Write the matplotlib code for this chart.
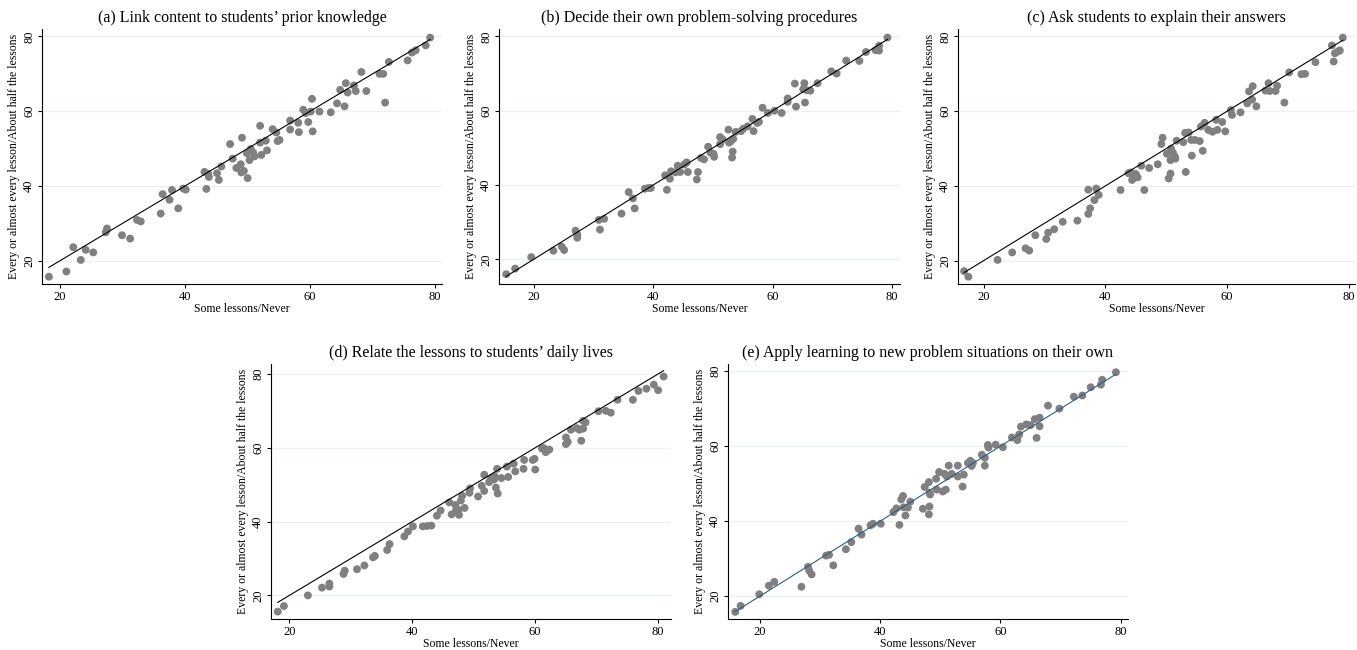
import matplotlib
matplotlib.use("Agg")
import matplotlib.pyplot as plt

plt.rcParams['font.family'] = ['Liberation Serif', 'DejaVu Serif']

# (a) Link content to students' prior knowledge
a_x = [18.2, 21.0, 22.1, 23.3, 24.1, 25.3, 27.3, 27.5, 29.9, 31.2, 32.3, 32.9, 36.1, 36.4,
       37.5, 37.9, 38.9, 39.7, 40.1, 43.1, 43.4, 43.7, 43.8, 45.1, 45.4, 45.8, 47.2, 47.6,
       48.2, 48.9, 49.0, 49.1, 49.4, 49.9, 50.0, 50.3, 50.5, 50.9, 51.1, 52.0, 52.0, 52.2,
       52.9, 53.1, 54.0, 54.6, 54.8, 55.1, 56.8, 56.8, 58.1, 58.2, 58.9, 59.3, 59.7, 60.1,
       60.3, 60.4, 61.5, 63.3, 64.3, 64.8, 65.5, 65.7, 66.0, 67.0, 67.3, 68.2, 69.0, 71.1,
       71.7, 72.0, 72.6, 75.6, 76.3, 76.9, 78.5, 79.2]
a_y = [15.7, 17.1, 23.6, 20.2, 22.9, 22.2, 27.6, 28.6, 26.8, 25.9, 30.9, 30.5, 32.6, 37.8,
       36.3, 38.9, 34.0, 39.3, 39.0, 43.75, 39.2, 43.2, 42.4, 43.4, 41.6, 45.2, 51.2, 47.3,
       44.8, 45.8, 43.6, 52.9, 44.0, 48.75, 42.1, 46.9, 49.9, 48.9, 47.9, 56.1, 51.6, 48.3,
       52.1, 49.5, 55.2, 54.3, 52.0, 52.3, 57.5, 55.1, 56.9, 54.4, 60.4, 59.5, 57.1, 59.9,
       63.3, 54.6, 59.9, 59.7, 62.1, 65.7, 61.3, 67.5, 65.0, 66.9, 65.4, 70.5, 65.4, 70.0,
       70.0, 62.3, 73.2, 73.6, 75.7, 76.3, 77.6, 79.7]

# (b) Decide their own problem-solving procedures
b_x = [15.4, 16.9, 19.6, 23.3, 24.7, 25.1, 27.0, 27.3, 27.3, 30.9, 31.1, 31.8, 34.7, 35.9,
       36.6, 36.9, 38.6, 39.2, 39.6, 42.0, 42.3, 42.8, 43.0, 43.7, 44.1, 44.5, 45.2, 45.6,
       45.8, 47.3, 47.5, 48.0, 48.5, 49.2, 49.6, 50.1, 50.2, 51.2, 51.2, 51.6, 52.6, 52.7,
       53.0, 53.4, 53.3, 53.2, 53.8, 54.7, 55.1, 55.8, 56.6, 56.8, 57.4, 57.7, 58.3, 59.2,
       60.3, 61.5, 62.5, 62.5, 63.7, 63.9, 65.1, 65.3, 65.4, 65.7, 66.3, 67.5, 69.8, 70.7,
       72.3, 74.5, 75.6, 77.2, 77.8, 77.8, 79.2]
b_y = [16.0, 17.5, 20.6, 22.3, 23.4, 22.5, 27.7, 26.7, 25.8, 30.6, 28.0, 30.9, 32.3, 38.1,
       36.4, 33.7, 39.0, 39.2, 39.2, 42.6, 38.7, 41.7, 43.7, 43.4, 45.2, 43.5, 45.5, 46.1,
       43.5, 41.5, 43.5, 47.3, 46.9, 50.3, 48.7, 48.4, 47.6, 51.0, 52.9, 52.3, 54.9, 51.4,
       51.8, 52.4, 49.0, 47.4, 54.3, 54.5, 55.2, 55.8, 57.8, 54.5, 56.7, 57.0, 60.8, 59.4,
       60.0, 59.4, 62.4, 63.3, 67.3, 61.1, 65.8, 67.4, 62.2, 65.5, 65.4, 67.4, 70.6, 70.0,
       73.5, 73.4, 75.8, 76.3, 77.5, 76.2, 79.7]

# (c) Ask students to explain their answers
c_x = [16.8, 17.5, 22.3, 24.7, 26.9, 27.5, 28.5, 30.3, 30.6, 31.6, 33.0, 35.4, 37.2, 37.2,
       37.5, 38.2, 38.5, 38.9, 42.5, 43.8, 44.2, 44.4, 45.0, 45.3, 45.9, 46.4, 47.2, 48.6,
       49.2, 49.4, 50.1, 50.4, 50.7, 50.8, 50.7, 51.1, 51.4, 51.5, 51.7, 52.8, 53.2, 53.1,
       53.7, 54.1, 54.2, 54.7, 55.5, 55.7, 56.0, 56.3, 56.9, 57.6, 58.2, 58.4, 59.2, 59.7,
       60.6, 60.8, 62.2, 63.3, 63.6, 64.1, 64.2, 64.8, 66.3, 66.8, 67.0, 67.95, 68.2, 69.4,
       70.2, 72.2, 72.8, 74.5, 77.2, 77.5, 77.7, 78.2, 78.5, 79.0]
c_y = [17.2, 15.7, 20.2, 22.2, 23.3, 22.7, 26.8, 25.8, 27.5, 28.4, 30.4, 30.7, 39.0, 32.5,
       34.0, 36.2, 39.3, 37.6, 38.9, 43.4, 43.6, 41.6, 43.2, 42.3, 45.4, 38.9, 44.8, 45.8,
       51.2, 52.9, 48.6, 42.0, 43.3, 50.0, 46.9, 48.9, 47.9, 47.3, 52.1, 51.7, 43.75, 54.2,
       54.3, 52.3, 48.1, 52.3, 52.0, 55.9, 49.4, 56.9, 55.0, 54.5, 57.7, 55.0, 57.1, 54.6,
       60.3, 59.0, 59.7, 62.1, 65.3, 63.1, 66.7, 61.3, 65.5, 67.5, 65.4, 65.4, 66.8, 62.3,
       70.4, 69.9, 70.0, 73.1, 77.6, 73.3, 75.5, 76.0, 76.25, 79.7]

# (d) Relate the lessons to students' daily lives
d_x = [18.1, 19.1, 23.0, 25.3, 26.5, 26.5, 28.8, 29.0, 31.0, 32.2, 33.6, 33.9, 35.9, 36.3,
       38.7, 39.3, 40.1, 41.7, 42.4, 43.1, 44.0, 44.6, 46.0, 46.4, 47.0, 47.1, 47.5, 47.6,
       47.9, 48.1, 48.5, 49.3, 49.4, 50.7, 51.3, 51.7, 51.7, 52.5, 52.8, 53.3, 53.4, 53.6,
       53.8, 53.9, 54.5, 55.4, 55.6, 56.5, 56.75, 58.1, 58.2, 59.6, 59.9, 60.0, 61.1, 61.4,
       61.7, 62.3, 65.0, 65.0, 65.3, 65.8, 66.8, 67.2, 67.5, 67.8, 67.8, 68.2, 70.3, 71.5,
       72.3, 73.4, 75.9, 76.8, 78.1, 79.3, 80.0, 80.9]
d_y = [15.6, 17.1, 20.0, 22.1, 23.2, 22.4, 25.8, 26.7, 27.1, 28.1, 30.3, 30.7, 32.3, 33.9,
       36.0, 37.3, 38.7, 38.7, 38.8, 38.9, 41.6, 43.0, 45.2, 41.95, 44.5, 42.9, 43.2, 41.8,
       45.7, 47.0, 43.7, 47.8, 49.0, 46.8, 49.7, 48.3, 52.7, 50.7, 51.7, 51.4, 52.3, 49.2,
       54.3, 47.6, 51.8, 54.9, 52.1, 55.7, 53.6, 54.3, 56.7, 56.7, 57.0, 54.1, 59.8, 59.9,
       58.8, 59.5, 62.8, 61.0, 61.6, 64.9, 65.3, 64.9, 61.9, 65.2, 67.3, 66.9, 69.9, 70.0,
       69.5, 73.0, 73.0, 75.4, 76.0, 77.1, 75.6, 79.3]

# (e) Apply learning to new problem situations on their own
e_x = [15.9, 16.8, 19.9, 21.5, 22.4, 26.9, 28.0, 28.2, 28.6, 31.0, 31.5, 32.2, 34.3, 35.2,
       36.4, 36.9, 38.4, 38.8, 40.1, 42.2, 42.7, 43.2, 43.5, 43.8, 43.9, 44.2, 44.6, 45.0,
       47.1, 47.4, 48.1, 48.2, 48.2, 48.1, 48.3, 49.3, 49.4, 49.8, 50.4, 50.7, 50.9, 51.1,
       51.4, 51.9, 52.9, 52.9, 53.7, 53.9, 54.6, 55.0, 55.2, 55.4, 56.9, 57.4, 57.4, 57.9,
       58.0, 59.2, 60.4, 61.9, 62.8, 63.1, 63.4, 64.3, 65.0, 65.7, 66.0, 66.5, 66.5, 67.9,
       69.8, 72.2, 73.6, 75.0, 76.7, 76.9, 79.2]
e_y = [15.8, 17.4, 20.5, 22.8, 23.8, 22.5, 27.8, 26.8, 25.8, 30.8, 31.0, 28.2, 32.5, 34.4,
       38.0, 36.4, 38.9, 39.3, 39.3, 42.4, 43.4, 39.0, 45.8, 46.7, 43.7, 41.5, 43.6, 45.2,
       43.3, 49.1, 50.4, 47.6, 43.9, 41.8, 47.1, 51.3, 48.4, 53.1, 47.9, 52.6, 48.4, 51.9,
       54.8, 52.6, 54.8, 51.9, 49.2, 52.4, 55.5, 56.1, 54.7, 55.5, 57.7, 56.9, 54.8, 60.3,
       59.6, 60.4, 59.7, 62.3, 61.6, 63.1, 65.2, 65.8, 65.6, 67.2, 62.2, 67.6, 65.3, 70.8,
       70.0, 73.2, 73.5, 75.7, 76.4, 77.7, 79.7]

titles = ["(a) Link content to students\u2019 prior knowledge",
          "(b) Decide their own problem-solving procedures",
          "(c) Ask students to explain their answers",
          "(d) Relate the lessons to students\u2019 daily lives",
          "(e) Apply learning to new problem situations on their own"]

panels = [(a_x, a_y), (b_x, b_y), (c_x, c_y), (d_x, d_y), (e_x, e_y)]
line_colors = ['black', 'black', 'black', 'black', '#2E5C8A']

# axes boxes in pixels: left, top, right, bottom
W, H = 1357, 650
boxes = [(42, 29, 442, 284), (499, 29, 900, 284), (958, 29, 1355, 284),
         (271, 364, 671, 619), (728, 364, 1128, 619)]
xlims = [(17.1, 81.1), (14.2, 81.3), (15.8, 81.0), (17.0, 82.1), (14.7, 81.2)]
ylims = [(13.75, 82.0), (13.35, 82.0), (13.75, 82.0), (13.6, 82.7), (13.9, 81.9)]

fig = plt.figure(figsize=(W / 100, H / 100), dpi=100)

for i, (xs, ys) in enumerate(panels):
    l, t, r, b = boxes[i]
    ax = fig.add_axes([l / W, 1 - b / H, (r - l) / W, (b - t) / H])
    for g in [20, 40, 60, 80]:
        ax.axhline(g, color='#EAF1F3', lw=0.9, zorder=0)
    ax.scatter(xs, ys, s=32, color='#808080', edgecolors='none', zorder=2)
    lo, hi = min(xs), max(xs)
    ax.plot([lo, hi], [lo, hi], color=line_colors[i], lw=0.8, zorder=3)
    ax.set_xlim(xlims[i])
    ax.set_ylim(ylims[i])
    ax.set_xticks([20, 40, 60, 80])
    ax.set_yticks([20, 40, 60, 80])
    ax.tick_params(axis='both', labelsize=9, length=3, width=0.8, pad=2)
    for lab in ax.get_yticklabels():
        lab.set_rotation(90)
        lab.set_va('center')
    ax.spines['top'].set_visible(False)
    ax.spines['right'].set_visible(False)
    ax.spines['left'].set_linewidth(0.8)
    ax.spines['bottom'].set_linewidth(0.8)
    ax.set_xlabel("Some lessons/Never", fontsize=8.5, labelpad=0)
    ax.set_ylabel("Every or almost every lesson/About half the lessons", fontsize=8.5, labelpad=2)
    ax.set_title(titles[i], fontsize=11.5, pad=5)

fig.savefig("out.png", dpi=100)
